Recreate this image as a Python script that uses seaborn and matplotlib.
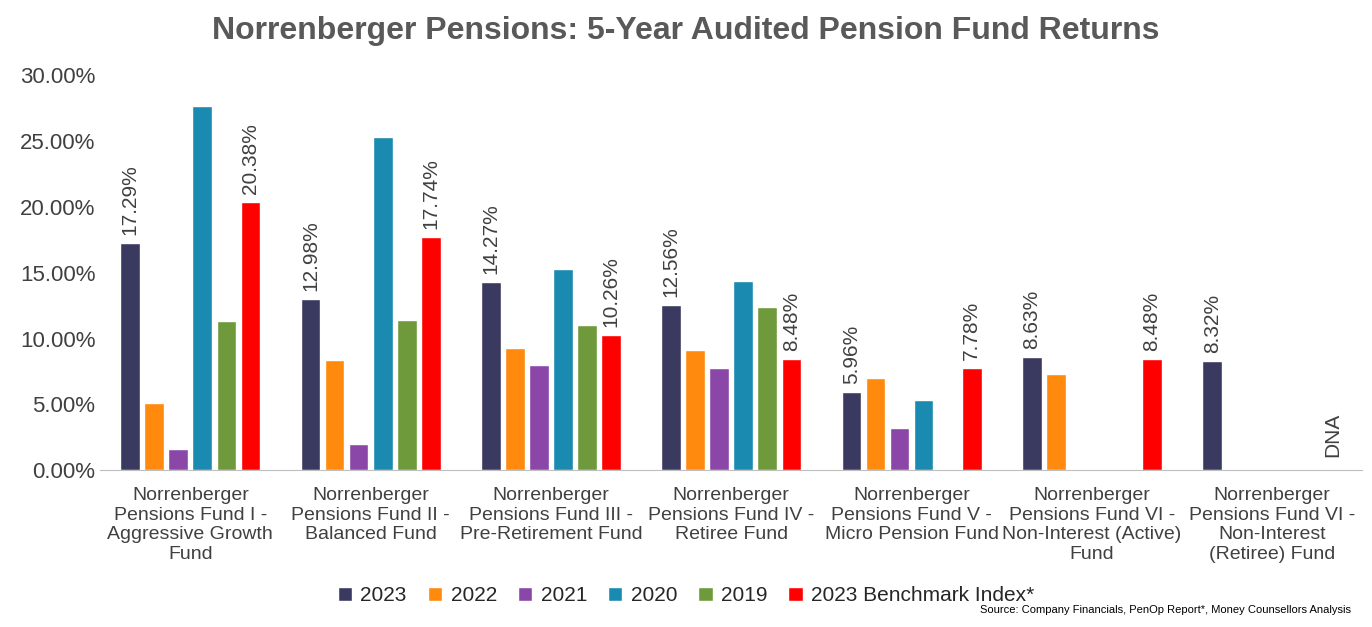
import numpy as np
import pandas as pd
import matplotlib.pyplot as plt
import seaborn as sns

funds = ["Norrenberger\nPensions Fund I -\nAggressive Growth\nFund",
         "Norrenberger\nPensions Fund II -\nBalanced Fund",
         "Norrenberger\nPensions Fund III -\nPre-Retirement Fund",
         "Norrenberger\nPensions Fund IV -\nRetiree Fund",
         "Norrenberger\nPensions Fund V -\nMicro Pension Fund",
         "Norrenberger\nPensions Fund VI -\nNon-Interest (Active)\nFund",
         "Norrenberger\nPensions Fund VI -\nNon-Interest\n(Retiree) Fund"]
series = ["2023", "2022", "2021", "2020", "2019", "2023 Benchmark Index*"]
v2023 = [17.29, 12.98, 14.27, 12.56, 5.96, 8.63, 8.32]
v2022 = [5.1, 8.4, 9.3, 9.1, 7.0, 7.3, np.nan]
v2021 = [1.6, 2.0, 8.0, 7.8, 3.2, np.nan, np.nan]
v2020 = [27.7, 25.3, 15.3, 14.4, 5.3, np.nan, np.nan]
v2019 = [11.3, 11.4, 11.0, 12.4, np.nan, np.nan, np.nan]
vbench = [20.38, 17.74, 10.26, 8.48, 7.78, 8.48, np.nan]
colors = ["#3a3960", "#ff8a0d", "#8b47a8", "#1a8ab0", "#6e9a3c", "#ff0000"]

allv = [v2023, v2022, v2021, v2020, v2019, vbench]
rows = []
for s, vals in zip(series, allv):
    for f, v in zip(funds, vals):
        rows.append({"Fund": f, "Series": s, "Value": v})
df = pd.DataFrame(rows)

sns.set_style("white")
plt.rcParams["font.family"] = ["Liberation Sans", "DejaVu Sans"]
fig = plt.figure(figsize=(13.72, 6.27), dpi=100)
ax = fig.add_axes([0.073, 0.25, 0.92, 0.63])
W = 0.8
sns.barplot(data=df, x="Fund", y="Value", hue="Series", palette=colors,
            saturation=1, width=W, gap=0.18, ax=ax, legend=True)
ax.set_ylim(0, 30)
ax.set_xlim(-0.5, 6.5)
ax.set_yticks(np.arange(0, 31, 5))
ax.set_yticklabels([f"{t:.2f}%" for t in np.arange(0, 31, 5)], fontsize=16, color="#404040")
ax.tick_params(axis="x", labelsize=14, colors="#404040", length=0, pad=12)
ax.tick_params(axis="y", length=0)
ax.set_xlabel(""); ax.set_ylabel("")
for sp in ["top", "right", "left"]:
    ax.spines[sp].set_visible(False)
ax.spines["bottom"].set_color("#bfbfbf")

n = len(series)
w = W / n
for si, vals in [(0, v2023), (5, vbench)]:
    for i, v in enumerate(vals):
        x = i - W / 2 + w * (si + 0.5)
        if not np.isnan(v):
            ax.text(x, v + 0.6, f"{v:.2f}%", rotation=90, ha="center", va="bottom",
                    fontsize=15, color="#404040")
        else:
            ax.text(x, 1.0, "DNA", rotation=90, ha="center", va="bottom",
                    fontsize=15, color="#404040")

h, l = ax.get_legend_handles_labels()
ax.legend_.remove()
fig.legend(h, l, loc="center", bbox_to_anchor=(0.5, 0.05), ncol=6, frameon=False,
           fontsize=15, handlelength=0.7, handleheight=0.7, columnspacing=1.0,
           handletextpad=0.4)
fig.suptitle("Norrenberger Pensions: 5-Year Audited Pension Fund Returns",
             fontsize=23, fontweight="bold", color="#595959", y=0.975)
fig.text(0.985, 0.022, "Source: Company Financials, PenOp Report*, Money Counsellors Analysis",
         ha="right", fontsize=8, color="#000000")
fig.savefig("out.png", dpi=100)
